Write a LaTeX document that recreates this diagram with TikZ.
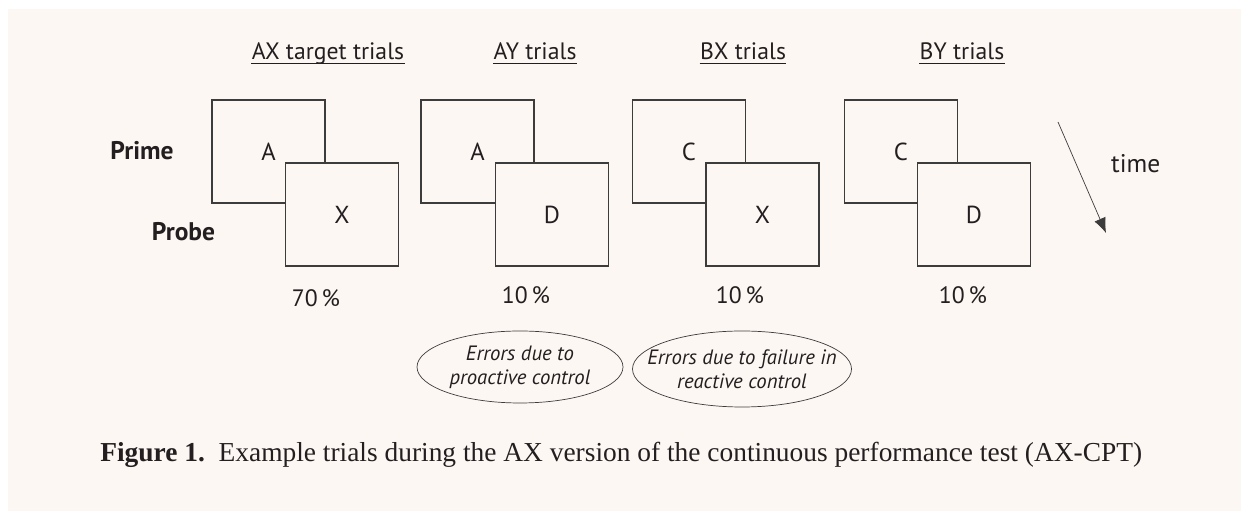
\documentclass[tikz,border=0pt]{standalone}
\usepackage{fontspec}
\setmainfont{Liberation Serif}
\setsansfont{PT Sans}
\usetikzlibrary{arrows.meta, positioning, shapes.geometric}
\definecolor{fondoRosa}{HTML}{FDF7F4}
\definecolor{grisLinea}{HTML}{3C3C3C}
\definecolor{tinta}{HTML}{231F20}
\tikzset{
  caja/.style={
    draw=grisLinea, semithick, fill=fondoRosa,
    minimum width=2.26cm, minimum height=2.06cm,
    inner sep=0pt, font=\sffamily\fontsize{14}{16}\selectfont, text=tinta
  },
  titulo/.style={font=\sffamily\fontsize{13.5}{16}\selectfont, text=tinta,
    anchor=base, inner xsep=0pt,
    append after command={([yshift=-2.2pt]\tikzlastnode.base west)
      edge[draw=tinta, semithick] ([yshift=-2.2pt]\tikzlastnode.base east)}},
  rotulo/.style={font=\sffamily\bfseries\fontsize{14.5}{17}\selectfont, text=tinta},
  porcentaje/.style={font=\sffamily\fontsize{13.5}{16}\selectfont, text=tinta},
  globo/.style={ellipse, draw=grisLinea, thin, align=center,
    inner xsep=-0.4cm, inner ysep=0pt,
    font=\sffamily\itshape\fontsize{11.8}{13.8}\selectfont, text=tinta},
  flecha/.style={-{Latex[length=3mm, width=2.4mm]}, thin, grisLinea},
}

\begin{document}
\begin{tikzpicture}
  \useasboundingbox (0,0) rectangle (24.82,10.22);
  \fill[white] (0,0) rectangle (24.82,10.22);
  \fill[fondoRosa] (0.16,0) rectangle (24.82,10.04);

  % AX target
  \node[titulo] (tAX) at (6.56,9.02) {AX target trials};
  \node[caja] (pAX) at (5.37,7.19) {A};
  \node[caja] (qAX) at (6.84,5.93) {X};
  \node[porcentaje] (nAX) at (6.32,4.26) {70\,\%};

  % AY
  \node[titulo] (tAY) at (10.70,9.02) {AY trials};
  \node[caja] (pAY) at (9.55,7.19) {A};
  \node[caja] (qAY) at (11.04,5.93) {D};
  \node[porcentaje] (nAY) at (10.52,4.32) {10\,\%};

  % BX
  \node[titulo] (tBX) at (14.86,9.02) {BX trials};
  \node[caja] (pBX) at (13.78,7.19) {C};
  \node[caja] (qBX) at (15.25,5.93) {X};
  \node[porcentaje] (nBX) at (14.80,4.32) {10\,\%};

  % BY
  \node[titulo] (tBY) at (19.24,9.02) {BY trials};
  \node[caja] (pBY) at (18.02,7.19) {C};
  \node[caja] (qBY) at (19.48,5.93) {D};
  \node[porcentaje] (nBY) at (19.26,4.32) {10\,\%};

  \node[rotulo] (prime) at (2.84,7.20) {Prime};
  \node[rotulo] (probe) at (3.67,5.58) {Probe};

  % time arrow
  \coordinate (t0) at (21.16,7.78);
  \coordinate (t1) at (22.12,5.56);
  \draw[flecha] (t0) -- (t1);
  \node[font=\sffamily\fontsize{14.5}{17}\selectfont, text=tinta, anchor=west] (time) at (22.10,6.95) {time};

  % error ellipses
  \node[globo, minimum width=4.12cm, minimum height=1.44cm] (proact) at (10.40,2.88)
    {Errors due to\\proactive control};
  \node[globo, minimum width=4.38cm, minimum height=1.52cm] (react) at (14.84,2.84)
    {Errors due to failure in\\reactive control};

  % caption
  \node[anchor=west, inner xsep=0pt, font=\fontsize{15.6}{18}\selectfont, text=tinta] (pie) at (2.00,1.12)
    {\textbf{Figure 1.}\ \ Example trials during the AX version of the continuous performance test (AX-CPT)};
\end{tikzpicture}
\end{document}
